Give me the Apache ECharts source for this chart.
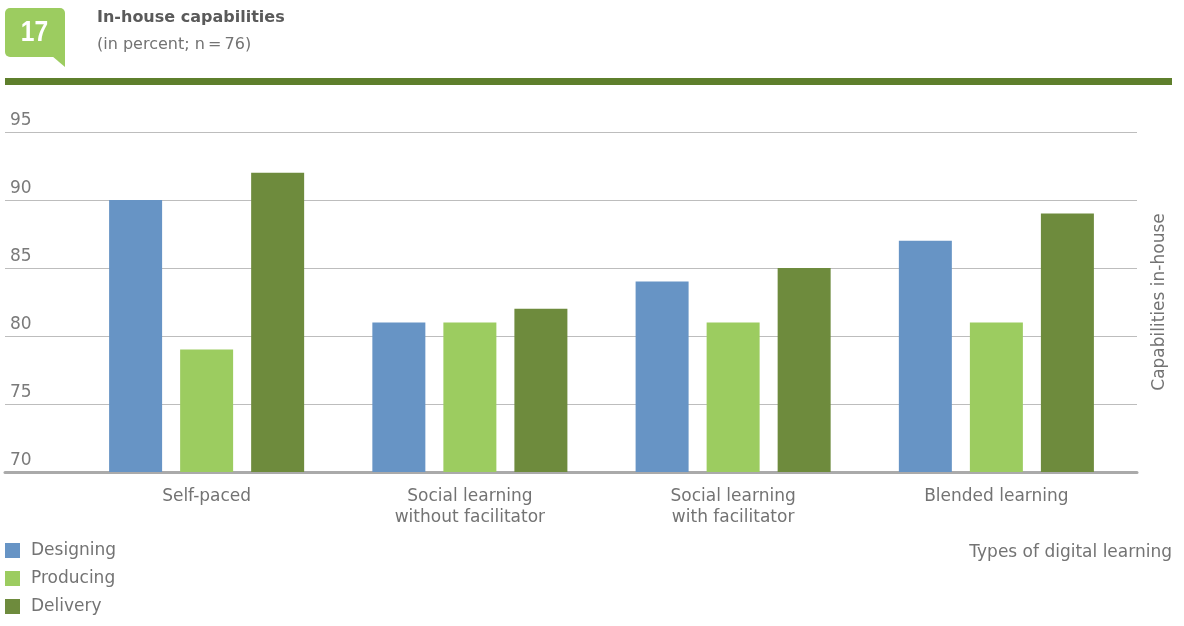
<!DOCTYPE html>
<html>
<head>
<meta charset="utf-8">
<script src="https://cdn.jsdelivr.net/npm/echarts@6/dist/echarts.min.js"></script>
<style>
  html, body { margin: 0; padding: 0; background: #fff; }
  #chart { width: 1184px; height: 626px; }
</style>
</head>
<body>
<div id="chart"></div>
<script>
// Types of digital learning (categories)
const categories = ['Self-paced', 'Social learning\nwithout facilitator', 'Social learning\nwith facilitator', 'Blended learning'];
// In-house capability shares, in percent
const designing = [90, 81, 84, 87];
const producing = [79, 81, 81, 81];
const delivery = [92, 82, 85, 89];
const yTicks = { min: 70, max: 95, interval: 5 };

const FONT = 'DejaVu Sans';
const TEXT = '#737373';
const FS = 17;

const chart = echarts.init(document.getElementById('chart'));

chart.setOption({
  animation: false,
  textStyle: { fontFamily: FONT },
  title: {
    text: 'In-house capabilities',
    subtext: '(in percent; n\u2009=\u200976)',
    left: 92,
    top: 5,
    itemGap: 11,
    textStyle: { fontFamily: FONT, fontWeight: 'bold', fontSize: 16, color: '#5a5a5a' },
    subtextStyle: { fontFamily: FONT, fontSize: 16, color: TEXT }
  },
  legend: {
    orient: 'vertical',
    left: 0,
    top: 537,
    icon: 'rect',
    itemWidth: 15,
    itemHeight: 15,
    itemGap: 11,
    textStyle: { fontFamily: FONT, fontSize: FS, color: TEXT, padding: [0, 0, 0, 6], lineHeight: 15 },
    data: ['Designing', 'Producing', 'Delivery']
  },
  grid: [
    // bars
    { left: 75, right: 1184 - 1128, top: 132, bottom: 626 - 472, containLabel: false },
    // full-width value grid lines
    { left: 5, right: 1184 - 1137, top: 132, bottom: 626 - 472, containLabel: false }
  ],
  xAxis: [
    {
      type: 'category', gridIndex: 0, data: categories,
      axisLine: { show: false }, axisTick: { show: false },
      axisLabel: { fontFamily: FONT, fontSize: FS, color: TEXT, lineHeight: 21, margin: 14 }
    },
    {
      type: 'category', gridIndex: 1, data: [''],
      axisLine: { show: true, lineStyle: { color: '#aaa', width: 3 } },
      axisTick: { show: false }, axisLabel: { show: false }
    }
  ],
  yAxis: [
    {
      type: 'value', gridIndex: 0, min: yTicks.min, max: yTicks.max, interval: yTicks.interval,
      show: false
    },
    {
      type: 'value', gridIndex: 1, min: yTicks.min, max: yTicks.max, interval: yTicks.interval,
      axisLine: { show: false }, axisTick: { show: false },
      splitLine: { lineStyle: { color: '#bdbdbd', width: 1 } },
      axisLabel: {
        inside: true, margin: 5, verticalAlign: 'bottom', padding: [0, 0, 3, 0],
        fontFamily: FONT, fontSize: FS, color: '#7a7a7a'
      }
    }
  ],
  series: [
    { name: 'Designing', type: 'bar', data: designing, barWidth: 53, barGap: '34%', itemStyle: { color: '#6794c5' } },
    { name: 'Producing', type: 'bar', data: producing, barWidth: 53, barGap: '34%', itemStyle: { color: '#9ccc60' } },
    { name: 'Delivery', type: 'bar', data: delivery, barWidth: 53, barGap: '34%', itemStyle: { color: '#6e8b3d' } }
  ],
  graphic: [
    // number badge (speech-bubble: rounded box plus a tail)
    {
      type: 'rect', z: 10,
      shape: { x: 5, y: 8, width: 60, height: 49, r: [5, 5, 0, 5] },
      style: { fill: '#9ccc60' }
    },
    {
      type: 'polygon', z: 10,
      shape: { points: [[52, 56], [65, 56], [65, 67]] },
      style: { fill: '#9ccc60' }
    },
    {
      type: 'text', z: 11, x: 34.5, y: 33, scaleX: 0.82,
      style: { text: '17', fill: '#fff', font: 'bold 30px "Liberation Sans"', align: 'center', verticalAlign: 'middle' }
    },
    // rule under the header
    { type: 'rect', z: 10, shape: { x: 5, y: 78, width: 1167, height: 7 }, style: { fill: '#5e7f2c' } },
    // value axis title
    {
      type: 'text', z: 10, x: 1160, y: 302, rotation: Math.PI / 2,
      style: { text: 'Capabilities in-house', fill: TEXT, font: FS + 'px "' + FONT + '"', align: 'center', verticalAlign: 'middle' }
    },
    // category axis title
    {
      type: 'text', z: 10, x: 1172, y: 553,
      style: { text: 'Types of digital learning', fill: TEXT, font: FS + 'px "' + FONT + '"', align: 'right', verticalAlign: 'middle' }
    }
  ]
});
</script>
</body>
</html>
